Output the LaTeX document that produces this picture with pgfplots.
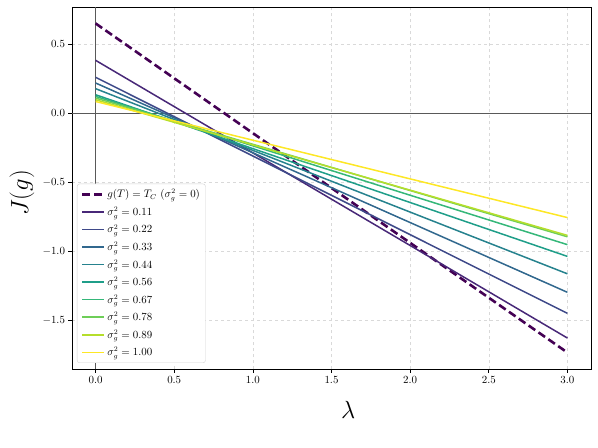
\documentclass[border=0pt]{standalone}
\usepackage{pgfplots}
\pgfplotsset{compat=1.18}
\definecolor{v0}{HTML}{440154}
\definecolor{v1}{HTML}{482878}
\definecolor{v2}{HTML}{3E4989}
\definecolor{v3}{HTML}{31688E}
\definecolor{v4}{HTML}{26828E}
\definecolor{v5}{HTML}{1F9E89}
\definecolor{v6}{HTML}{35B779}
\definecolor{v7}{HTML}{6ECE58}
\definecolor{v8}{HTML}{B5DE2B}
\definecolor{v9}{HTML}{FDE725}
\begin{document}
\begin{tikzpicture}
\useasboundingbox (-72bp,-79bp) rectangle (526bp,369bp);
\begin{axis}[
  at={(0,0)}, anchor=south west,
  scale only axis, width=519bp, height=362bp,
  xmin=-0.15, xmax=3.15, ymin=-1.852, ymax=0.768,
  xtick={0,0.5,1,1.5,2,2.5,3},
  ytick={-1.5,-1,-0.5,0,0.5},
  xticklabel style={/pgf/number format/.cd, fixed, fixed zerofill, precision=1},
  yticklabel style={/pgf/number format/.cd, fixed, fixed zerofill, precision=1},
  tick label style={font=\fontsize{10.8}{12}\selectfont},
  tick align=outside, tick pos=left,
  major tick length=3.5bp,
  every tick/.style={black, line width=0.6bp},
  axis line style={black, line width=0.8bp},
  grid=major,
  major grid style={dashed, gray!30, line width=0.5bp},
  xlabel={$\lambda$},
  ylabel={$J(g)$},
  x label style={at={(axis description cs:0.532,-0.113)}, anchor=center, font=\fontsize{34}{38}\selectfont},
  y label style={at={(axis description cs:-0.0963,0.486)}, anchor=center, font=\fontsize{30}{34}\selectfont},
  legend style={at={(axis description cs:0.0096,0.0166)}, anchor=south west,
    draw=gray!35, rounded corners=2.5bp, fill=white,
    font=\fontsize{10.6}{12}\selectfont, row sep=4.6bp, inner sep=4bp,
    nodes={inner sep=1.5bp}},
  legend cell align=left,
  legend image code/.code={\draw[#1] (0bp,0bp) -- (22bp,0bp);},
]
\draw[black!65, line width=0.8bp] (axis cs:-0.15,0) -- (axis cs:3.15,0);
\draw[black!65, line width=0.8bp] (axis cs:0,-1.852) -- (axis cs:0,0.768);
\addplot[v0, line width=2.6bp, dash pattern=on 8bp off 4bp] coordinates {(0,0.649) (3,-1.733)};
\addlegendentry{$g(T)=T_C\ (\sigma_g^2=0)$}
\addplot[v1, line width=1.5bp] coordinates {(0,0.382) (3,-1.628)};
\addlegendentry{$\sigma_g^2=0.11$}
\addplot[v2, line width=1.5bp] coordinates {(0,0.259) (3,-1.449)};
\addlegendentry{$\sigma_g^2=0.22$}
\addplot[v3, line width=1.5bp] coordinates {(0,0.218) (3,-1.297)};
\addlegendentry{$\sigma_g^2=0.33$}
\addplot[v4, line width=1.5bp] coordinates {(0,0.177) (3,-1.163)};
\addlegendentry{$\sigma_g^2=0.44$}
\addplot[v5, line width=1.5bp] coordinates {(0,0.133) (3,-1.037)};
\addlegendentry{$\sigma_g^2=0.56$}
\addplot[v6, line width=1.5bp] coordinates {(0,0.121) (3,-0.952)};
\addlegendentry{$\sigma_g^2=0.67$}
\addplot[v7, line width=1.5bp] coordinates {(0,0.109) (3,-0.895)};
\addlegendentry{$\sigma_g^2=0.78$}
\addplot[v8, line width=1.5bp] coordinates {(0,0.097) (3,-0.885)};
\addlegendentry{$\sigma_g^2=0.89$}
\addplot[v9, line width=1.5bp] coordinates {(0,0.084) (3,-0.756)};
\addlegendentry{$\sigma_g^2=1.00$}
\end{axis}
\end{tikzpicture}
\end{document}
